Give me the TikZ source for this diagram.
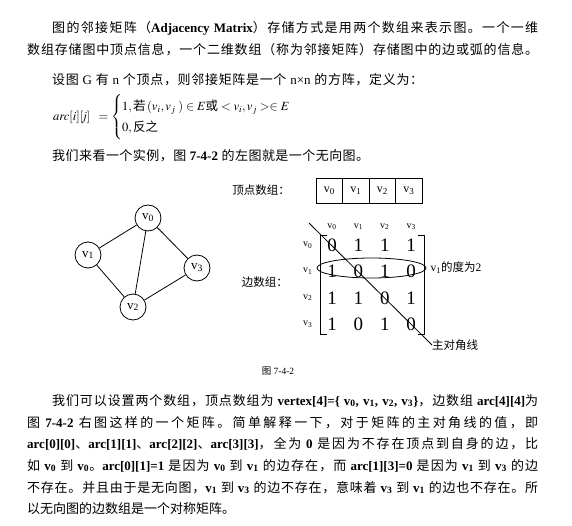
\documentclass[tikz,border=0pt]{standalone}
\usepackage{amsmath}
\usepackage{mathptmx}
\usepackage{fontspec}
\setmainfont{Liberation Serif}
\newfontfamily\cjk{Noto Sans CJK SC}
\usetikzlibrary{positioning,shapes.geometric}

\newcount\hanidx
\newXeTeXintercharclass\hanclass
\hanidx="3000
\loop
  \XeTeXcharclass\hanidx=\hanclass
  \advance\hanidx by 1
\ifnum\hanidx<"A000 \repeat
\hanidx="FF00
\loop
  \XeTeXcharclass\hanidx=\hanclass
  \advance\hanidx by 1
\ifnum\hanidx<"FFF0 \repeat
\XeTeXinterchartoks 0 \hanclass = {\begingroup\cjk}
\XeTeXinterchartoks 4095 \hanclass = {\begingroup\cjk}
\XeTeXinterchartoks \hanclass 0 = {\endgroup}
\XeTeXinterchartoks \hanclass 4095 = {\endgroup}
\XeTeXinterchartoks \hanclass \hanclass = {\hskip 0pt plus 2pt\relax}
\XeTeXinterchartokenstate=1

\newcommand{\vx}[1]{v\textsubscript{#1}}

\begin{document}
\begin{tikzpicture}
[
x=1pt, y=-1pt,
line-a/.style={line width=0.8pt},
text-a/.style={anchor=base west, inner sep=0pt, font=\fontsize{13}{15}\selectfont},
lb-a/.style={inner sep=0pt, font=\fontsize{11.5}{13}\selectfont},
vert-a/.style={circle, draw, line width=0.8pt, minimum size=26pt, inner sep=0pt, font=\fontsize{13}{13}\selectfont},
cell-a/.style={rectangle, draw, line width=0.8pt, minimum width=26.5pt, minimum height=25pt, inner sep=0pt, outer sep=0pt, font=\fontsize{12}{12}\selectfont},
ent-a/.style={minimum width=26pt, minimum height=26pt, inner sep=0pt, font=\fontsize{19}{19}\selectfont},
idx-a/.style={minimum width=26pt, minimum height=26pt, inner sep=0pt, font=\fontsize{10}{10}\selectfont}
]
\fill [white] (0,0) rectangle (572,526);
\useasboundingbox (0,0) rectangle (572,526);

\node (par-1-1)  [text-a]  at (52,33)   {\makebox[486pt][s]{图的邻接矩阵（\textbf{Adjacency Matrix}）存储方式是用两个数组来表示图。一个一维}};
\node (par-1-2)  [text-a]  at (27,55)   {\makebox[511pt][s]{数组存储图中顶点信息，一个二维数组（称为邻接矩阵）存储图中的边或弧的信息。}};
\node (def-line) [text-a]  at (52,85)   {\makebox[371pt][s]{设图 G 有 n 个顶点，则邻接矩阵是一个 n×n 的方阵，定义为：}};
\node (def-eq)   [anchor=west, inner sep=0pt, font=\fontsize{12.5}{15}\selectfont] at (53,117)
  {$\mathit{arc[i][j]}\;\;=\left\{\renewcommand{\arraystretch}{1.4}\begin{array}{@{}l@{}}1,\text{若}\,(v_i,v_j\;)\in E\text{或}<v_i,v_j>\in E\\0,\text{反之}\end{array}\right.$};
\node (ex-line)  [text-a]  at (52,161)  {\makebox[317pt][s]{我们来看一个实例，图 \textbf{7-4-2} 的左图就是一个无向图。}};

\node (v-0) [vert-a] at (148,218) {\vx{0}};
\node (v-1) [vert-a] at (88,255)  {\vx{1}};
\node (v-2) [vert-a] at (133,307) {\vx{2}};
\node (v-3) [vert-a] at (197,268) {\vx{3}};
\draw [line-a] (v-0) -- (v-1);
\draw [line-a] (v-0) -- (v-2);
\draw [line-a] (v-0) -- (v-3);
\draw [line-a] (v-1) -- (v-2);
\draw [line-a] (v-2) -- (v-3);

\node (arr-0)  [cell-a]                        at (329.25,190.5) {\vx{0}};
\node (arr-1)  [cell-a, right = 0pt of arr-0]  {\vx{1}};
\node (arr-2)  [cell-a, right = 0pt of arr-1]  {\vx{2}};
\node (arr-3)  [cell-a, right = 0pt of arr-2]  {\vx{3}};
\node (arr-lb) [lb-a,   left  = 26pt of arr-0] {顶点数组：};

\node (ent-0-0) [ent-a]                          at (332,245) {0};
\node (ent-0-1) [ent-a, right = 0pt of ent-0-0]  {1};
\node (ent-0-2) [ent-a, right = 0pt of ent-0-1]  {1};
\node (ent-0-3) [ent-a, right = 0pt of ent-0-2]  {1};
\node (ent-1-0) [ent-a, below = 0pt of ent-0-0]  {1};
\node (ent-1-1) [ent-a, right = 0pt of ent-1-0]  {0};
\node (ent-1-2) [ent-a, right = 0pt of ent-1-1]  {1};
\node (ent-1-3) [ent-a, right = 0pt of ent-1-2]  {0};
\node (ent-2-0) [ent-a, below = 0pt of ent-1-0]  {1};
\node (ent-2-1) [ent-a, right = 0pt of ent-2-0]  {1};
\node (ent-2-2) [ent-a, right = 0pt of ent-2-1]  {0};
\node (ent-2-3) [ent-a, right = 0pt of ent-2-2]  {1};
\node (ent-3-0) [ent-a, below = 0pt of ent-2-0]  {1};
\node (ent-3-1) [ent-a, right = 0pt of ent-3-0]  {0};
\node (ent-3-2) [ent-a, right = 0pt of ent-3-1]  {1};
\node (ent-3-3) [ent-a, right = 0pt of ent-3-2]  {0};

\node (row-0) [idx-a, left  = -2pt of ent-0-0] {\vx{0}};
\node (row-1) [idx-a, left  = -2pt of ent-1-0] {\vx{1}};
\node (row-2) [idx-a, left  = -2pt of ent-2-0] {\vx{2}};
\node (row-3) [idx-a, left  = -2pt of ent-3-0] {\vx{3}};
\node (col-0) [idx-a, above = -8pt of ent-0-0] {\vx{0}};
\node (col-1) [idx-a, above = -8pt of ent-0-1] {\vx{1}};
\node (col-2) [idx-a, above = -8pt of ent-0-2] {\vx{2}};
\node (col-3) [idx-a, above = -8pt of ent-0-3] {\vx{3}};

\draw [line-a] ([xshift=8pt,yshift=-4pt]ent-0-0.north west) -- ([xshift=2pt,yshift=-4pt]ent-0-0.north west)
  -- ([xshift=2pt,yshift=3pt]ent-3-0.south west) -- ([xshift=8pt,yshift=3pt]ent-3-0.south west);
\draw [line-a] ([xshift=-6pt,yshift=-4pt]ent-0-3.north east) -- ([yshift=-4pt]ent-0-3.north east)
  -- ([yshift=3pt]ent-3-3.south east) -- ([xshift=-6pt,yshift=3pt]ent-3-3.south east);

\node (mat-lb)   [lb-a, anchor=east] at (288,282) {边数组：};
\node (deg-ring) [ellipse, draw, line-a, minimum width=109pt, minimum height=20pt, inner sep=0pt] at (371.5,268) {};
\node (deg-lb)   [lb-a, right = 4pt of deg-ring] {\vx{1}的度为2};
\coordinate (diag-top) at (309,223);
\node (diag-lb)  [lb-a, anchor=west] at (432,345) {主对角线};
\draw [line-a] (diag-top) -- (diag-lb.west);

\node (fig-cap) [inner sep=0pt, font=\fontsize{9.5}{11}\selectfont] at (278,371) {图 7-4-2};

\node (par-3-1) [text-a] at (52,405) {\makebox[486pt][s]{我们可以设置两个数组，顶点数组为 \textbf{vertex[4]=\{ \vx{0}, \vx{1}, \vx{2}, \vx{3}\}}，边数组 \textbf{arc[4][4]}为}};
\node (par-3-2) [text-a] at (27,427) {\makebox[511pt][s]{图 \textbf{7-4-2} 右图这样的一个矩阵。简单解释一下，对于矩阵的主对角线的值，即}};
\node (par-3-3) [text-a] at (27,448) {\makebox[511pt][s]{\textbf{arc[0][0]}、\textbf{arc[1][1]}、\textbf{arc[2][2]}、\textbf{arc[3][3]}，全为 \textbf{0} 是因为不存在顶点到自身的边，比}};
\node (par-3-4) [text-a] at (27,470) {\makebox[511pt][s]{如 \textbf{\vx{0}} 到 \textbf{\vx{0}}。\textbf{arc[0][1]=1} 是因为 \textbf{\vx{0}} 到 \textbf{\vx{1}} 的边存在，而 \textbf{arc[1][3]=0} 是因为 \textbf{\vx{1}} 到 \textbf{\vx{3}} 的边}};
\node (par-3-5) [text-a] at (27,492) {\makebox[511pt][s]{不存在。并且由于是无向图，\textbf{\vx{1}} 到 \textbf{\vx{3}} 的边不存在，意味着 \textbf{\vx{3}} 到 \textbf{\vx{1}} 的边也不存在。所}};
\node (par-3-6) [text-a] at (27,513) {以无向图的边数组是一个对称矩阵。};
\end{tikzpicture}
\end{document}
